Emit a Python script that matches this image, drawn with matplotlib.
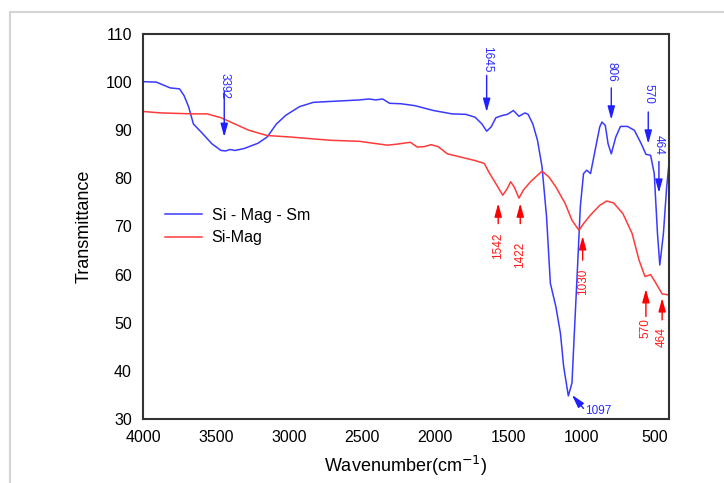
import matplotlib
matplotlib.use("Agg")
import matplotlib.pyplot as plt
from matplotlib.patches import Rectangle

plt.rcParams['font.family'] = ['Liberation Sans', 'DejaVu Sans']

# Si - Mag - Sm (blue)
wn_sm = [4000, 3908, 3814, 3750, 3719, 3687, 3655, 3592, 3529, 3466, 3434, 3403, 3371, 3308,
         3213, 3150, 3087, 3023, 2929, 2834, 2707, 2518, 2454, 2407, 2360, 2312, 2233, 2138,
         2012, 1885, 1790, 1727, 1680, 1648, 1617, 1585, 1538, 1506, 1465, 1427, 1386, 1364,
         1332, 1300, 1269, 1238, 1212, 1174, 1143, 1121, 1089, 1064, 1048, 1026, 1007, 985,
         963, 937, 906, 874, 859, 836, 817, 795, 764, 732, 685, 637, 590, 558, 526, 501, 479,
         463, 438, 416, 400]
t_sm = [100.1, 100.0, 98.8, 98.6, 97.2, 94.8, 91.3, 89.3, 87.2, 85.8, 85.7, 86.0, 85.8, 86.2,
        87.3, 88.6, 91.3, 93.1, 94.9, 95.8, 96.0, 96.3, 96.5, 96.3, 96.5, 95.6, 95.5, 95.1,
        94.1, 93.4, 93.3, 92.7, 91.3, 89.8, 90.7, 92.6, 93.1, 93.3, 94.1, 92.9, 93.6, 93.3,
        91.3, 87.9, 82.4, 72.0, 58.2, 53.3, 47.8, 40.9, 34.8, 37.5, 47.8, 61.6, 74.1, 81.0,
        81.7, 81.0, 85.8, 90.7, 91.7, 91.0, 87.2, 85.1, 88.6, 90.8, 90.8, 90.0, 87.2, 85.0,
        84.8, 81.0, 68.6, 62.0, 68.6, 78.2, 83.1]

# Si-Mag (red)
wn_mag = [4000, 3877, 3655, 3561, 3466, 3371, 3276, 3150, 2992, 2834, 2707, 2518, 2423, 2328,
          2265, 2170, 2123, 2075, 2028, 1980, 1917, 1822, 1727, 1664, 1633, 1585, 1538, 1506,
          1484, 1459, 1427, 1396, 1348, 1269, 1222, 1174, 1111, 1064, 1016, 985, 937, 874,
          827, 779, 716, 653, 605, 564, 526, 495, 447, 406]
t_mag = [93.9, 93.6, 93.4, 93.4, 92.6, 91.3, 90.0, 88.9, 88.6, 88.2, 87.9, 87.7, 87.3, 86.9,
         87.1, 87.5, 86.5, 86.6, 87.0, 86.6, 85.1, 84.4, 83.7, 83.1, 81.3, 78.9, 76.5, 77.9,
         79.3, 78.2, 75.9, 77.6, 79.3, 81.5, 80.3, 78.2, 74.8, 71.3, 69.2, 70.6, 72.4, 74.4,
         75.3, 74.9, 72.7, 68.6, 63.0, 59.6, 60.0, 58.5, 56.0, 55.8]

# Annotations: label, x, arrow tail y, arrow head y, text center y
blue_labels = ["3392", "1645", "806", "570", "464"]
blue_x = [3444, 1648, 795, 542, 469]
blue_tail = [98.1, 101.4, 98.8, 93.8, 83.5]
blue_head = [88.6, 93.8, 92.2, 87.2, 77.0]
blue_text = [99.2, 104.8, 102.2, 97.6, 87.0]

red_labels = ["1542", "1422", "1030", "570", "464"]
red_x = [1569, 1418, 991, 558, 447]
red_tail = [70.6, 70.6, 63.0, 51.3, 50.6]
red_head = [74.8, 74.8, 68.0, 57.0, 55.1]
red_text = [65.9, 64.2, 58.6, 48.9, 47.0]

BLUE = '#3a3aff'
RED = '#ff3a3a'
ARROW = '-|>,head_width=0.22,head_length=0.8'

fig = plt.figure(figsize=(7.24, 4.83), dpi=100)
fig.patches.append(Rectangle((10/724, -0.1), 1.2, (483-12)/483 + 0.1, transform=fig.transFigure,
                             fill=False, edgecolor='#d4d4d4', lw=1.5, zorder=0))
ax = fig.add_axes([143/724, 64/483, 526/724, 385/483])

ax.plot(wn_sm, t_sm, color=BLUE, lw=1.1, label='Si - Mag - Sm')
ax.plot(wn_mag, t_mag, color=RED, lw=1.1, label='Si-Mag')

ax.set_xlim(4000, 400)
ax.set_ylim(30, 110)
ax.set_xticks([4000, 3500, 3000, 2500, 2000, 1500, 1000, 500])
ax.set_yticks(range(30, 111, 10))
ax.tick_params(length=0, labelsize=11.5, pad=8, colors='black')
for s in ax.spines.values():
    s.set_linewidth(1.5)
    s.set_color('#333333')

ax.set_ylabel('Transmittance', fontsize=13, labelpad=9)
ax.set_xlabel('Wavenumber(cm$^{-1}$)', fontsize=13, labelpad=6)

for lab, x, t0, t1, ty in zip(blue_labels, blue_x, blue_tail, blue_head, blue_text):
    ax.annotate('', xy=(x, t1), xytext=(x, t0),
                arrowprops=dict(arrowstyle=ARROW, color='#1f1fff', lw=1.0, shrinkA=0, shrinkB=0))
    ax.text(x, ty, lab, rotation=270, color='#2a2aff', fontsize=8.5, ha='center', va='center')

for lab, x, t0, t1, ty in zip(red_labels, red_x, red_tail, red_head, red_text):
    ax.annotate('', xy=(x, t1), xytext=(x, t0),
                arrowprops=dict(arrowstyle=ARROW, color='#ff0000', lw=1.0, shrinkA=0, shrinkB=0))
    ax.text(x, ty, lab, rotation=90, color='#ff1a1a', fontsize=8.5, ha='center', va='center')

ax.annotate('', xy=(1064, 35.0), xytext=(985, 32.2),
            arrowprops=dict(arrowstyle=ARROW, color='#1f1fff', lw=1.0, shrinkA=0, shrinkB=0))
ax.text(975, 31.7, '1097', color='#2a2aff', fontsize=8.5, ha='left', va='center')

ax.legend(loc='center left', bbox_to_anchor=(0.015, 0.50), frameon=False, fontsize=11.5,
          handlelength=2.3, labelspacing=0.45, handletextpad=0.6)

fig.savefig('out.png', dpi=100)
